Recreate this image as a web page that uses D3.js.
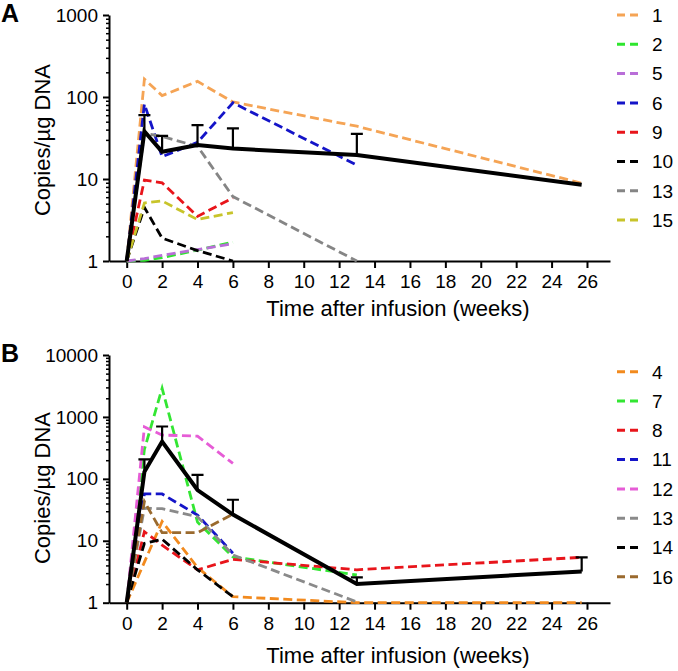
<!DOCTYPE html>
<html>
<head>
<meta charset="utf-8">
<script src="https://cdnjs.cloudflare.com/ajax/libs/d3/7.8.5/d3.min.js"></script>
<style>
body { margin: 0; background: #fff; }
svg { display: block; font-family: "Liberation Sans", Arial, sans-serif; }
.axis path, .axis line { stroke: #000; }
</style>
</head>
<body>
<svg id="chart" width="678" height="671"></svg>
<script>
// time points (weeks after infusion)
var weeks = [0, 1, 2, 4, 6, 13, 25.7];
var xTicks = [0, 2, 4, 6, 8, 10, 12, 14, 16, 18, 20, 22, 24, 26];

// panel A
var idsA = ["1", "2", "5", "6", "9", "10", "13", "15"];
var colorsA = ["#f5a455", "#2ee62e", "#b96ed8", "#1414c8", "#e8151b", "#000000", "#858585", "#c8c42a"];
var valuesA = [
    [1, 165, 104, 155, 87, 44, 8.9],
    [1, 1.02, 1.1, 1.36, 1.7, null, null],
    [1, 1.07, 1.17, 1.38, 1.62, null, null],
    [1, 82, 18.7, 28, 85, 14.8, null],
    [1, 9.7, 9, 3.5, 5.9, null, null],
    [1, 4.5, 1.9, 1.34, 1, null, null],
    [1, 36, 33, 25, 6.1, 1, null],
    [1, 5.1, 5.4, 3.2, 3.9, null, null]
];
var meanA = [1, 38, 21.5, 26, 23.5, 19.6, 8.5];
var errTopA = [null, 60, 33.5, 45.5, 41.5, 35.5, null];
var yTicksA = [1, 10, 100, 1000];

// panel B
var idsB = ["4", "7", "8", "11", "12", "13", "14", "16"];
var colorsB = ["#f28a1e", "#33e633", "#e8151b", "#1414c8", "#e65cd6", "#8a8a8a", "#000000", "#9a6a2e"];
var valuesB = [
    [1, null, 20.5, 3.7, 1.25, 1, 1],
    [1, 300, 2900, 20, 5.5, 2.8, null],
    [1, 14, 8.5, 3.4, 5, 3.4, 5.4],
    [1, 57, 57, 26, 6.3, null, null],
    [1, 690, 510, 490, 178, null, null],
    [1, 33.5, 33, 24.5, 5.9, 1.03, null],
    [1, 9.1, 10.6, 3.4, 1.25, null, null],
    [1, 43, 13.5, 13.5, 27, null, null]
];
var meanB = [1, 130, 400, 66, 26.5, 2, 3.2];
var errTopB = [null, 207, 700, 116, 46, 2.57, 5.4];
var yTicksB = [1, 10, 100, 1000, 10000];

var svg = d3.select("#chart");

var x = d3.scaleLinear().domain([-1, 27.3]).range([109, 610]);

function minorTicks(domain) {
    var out = [];
    for (var p = domain[0]; p < domain[1]; p *= 10) {
        for (var k = 2; k <= 9; k++) out.push(p * k);
    }
    return out;
}

function drawPanel(opts) {
    var y = d3.scaleLog().domain(opts.yDomain).range(opts.yRange);
    var g = svg.append("g");

    // minor y ticks
    g.append("g")
        .attr("class", "axis")
        .attr("transform", "translate(109,0)")
        .call(d3.axisLeft(y).tickValues(minorTicks(opts.yDomain)).tickSize(3).tickFormat(""))
        .call(function(s) { s.select(".domain").remove(); })
        .selectAll("line").attr("stroke-width", 1.5);

    // major y axis
    g.append("g")
        .attr("class", "axis")
        .attr("transform", "translate(109,0)")
        .call(d3.axisLeft(y).tickValues(opts.yTicks).tickFormat(d3.format("d"))
            .tickSize(6).tickSizeOuter(0).tickPadding(5))
        .call(function(s) {
            s.select(".domain").attr("stroke-width", 2);
            s.selectAll("line").attr("stroke-width", 2);
            s.selectAll("text").attr("font-size", 19).attr("fill", "#000");
        });

    // x axis
    g.append("g")
        .attr("class", "axis")
        .attr("transform", "translate(0," + opts.yRange[0] + ")")
        .call(d3.axisBottom(x).tickValues(xTicks).tickSize(7).tickSizeOuter(0).tickPadding(7))
        .call(function(s) {
            s.select(".domain").attr("stroke-width", 2);
            s.selectAll("line").attr("stroke-width", 2);
            s.selectAll("text").attr("font-size", 19).attr("fill", "#000");
        });

    var line = d3.line()
        .defined(function(d) { return d[1] != null; })
        .x(function(d) { return x(d[0]); })
        .y(function(d) { return y(d[1]); });

    var pairs = function(vals) {
        return weeks.map(function(w, i) { return [w, vals[i]]; })
            .filter(function(d) { return d[1] != null; });
    };

    // individual patients
    opts.values.forEach(function(vals, i) {
        g.append("path")
            .datum(pairs(vals))
            .attr("fill", "none")
            .attr("stroke", opts.colors[i])
            .attr("stroke-width", 2.8)
            .attr("stroke-dasharray", "9,4.5")
            .attr("d", line);
    });

    // error bars (upper only)
    var errs = weeks.map(function(w, i) { return { w: w, m: opts.mean[i], t: opts.errTop[i] }; })
        .filter(function(d) { return d.t != null; });
    g.selectAll(".err").data(errs).enter().append("path")
        .attr("class", "err")
        .attr("fill", "none")
        .attr("stroke", "#000")
        .attr("stroke-width", 2.2)
        .attr("d", function(d) {
            var cx = x(d.w), ct = y(d.t);
            return "M" + cx + "," + y(d.m) + "V" + ct + "M" + (cx - 6) + "," + ct + "H" + (cx + 6);
        });

    // mean
    g.append("path")
        .datum(pairs(opts.mean))
        .attr("fill", "none")
        .attr("stroke", "#000")
        .attr("stroke-width", 4)
        .attr("stroke-linejoin", "miter")
        .attr("d", line);

    // legend
    var leg = g.selectAll(".leg").data(opts.ids).enter().append("g")
        .attr("class", "leg")
        .attr("transform", function(d, i) { return "translate(0," + (opts.legendTop + i * 29.3) + ")"; });
    leg.append("line")
        .attr("x1", 617).attr("x2", 638)
        .attr("stroke", function(d, i) { return opts.colors[i]; })
        .attr("stroke-width", 3)
        .attr("stroke-dasharray", "8,5");
    leg.append("text")
        .attr("x", 652)
        .attr("dy", "0.36em")
        .attr("font-size", 19)
        .text(function(d) { return d; });

    // axis titles
    g.append("text")
        .attr("text-anchor", "middle")
        .attr("font-size", 22)
        .attr("transform", "translate(50," + opts.yTitleY + ") rotate(-90)")
        .text("Copies/\u00b5g DNA");

    g.append("text")
        .attr("text-anchor", "middle")
        .attr("font-size", 22)
        .attr("x", 398)
        .attr("y", opts.xTitleY)
        .text("Time after infusion (weeks)");

    // panel letter
    g.append("text")
        .attr("x", 1)
        .attr("y", opts.letterY)
        .attr("font-size", 25)
        .attr("font-weight", "bold")
        .text(opts.letter);
}

drawPanel({
    letter: "A", letterY: 22,
    yDomain: [1, 1000], yRange: [261, 15], yTicks: yTicksA,
    values: valuesA, colors: colorsA, ids: idsA,
    mean: meanA, errTop: errTopA,
    legendTop: 15, yTitleY: 140, xTitleY: 316
});

drawPanel({
    letter: "B", letterY: 362,
    yDomain: [1, 10000], yRange: [602.7, 355], yTicks: yTicksB,
    values: valuesB, colors: colorsB, ids: idsB,
    mean: meanB, errTop: errTopB,
    legendTop: 371.7, yTitleY: 488, xTitleY: 663
});
</script>
</body>
</html>
